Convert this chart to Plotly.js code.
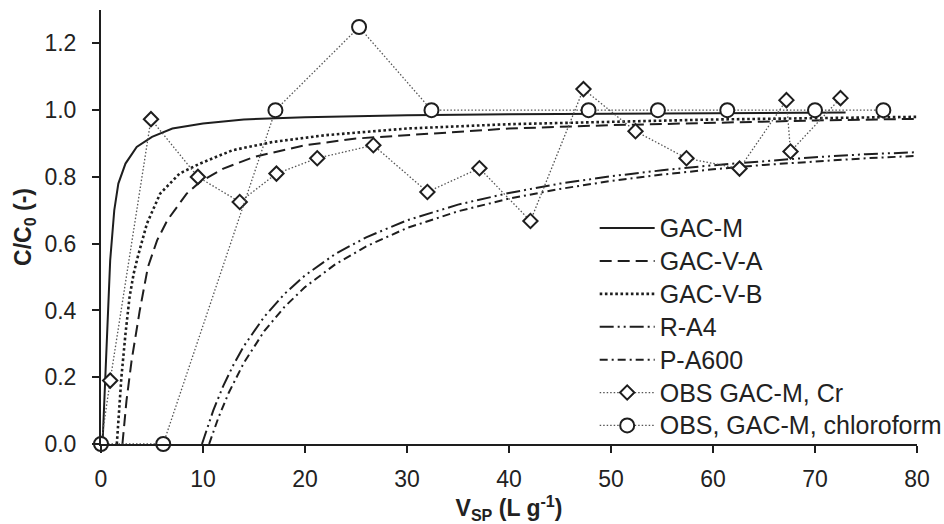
<!DOCTYPE html>
<html>
<head>
<meta charset="utf-8">
<script src="https://cdn.plot.ly/plotly-3.0.1.min.js"></script>
<style>
  html, body { margin: 0; padding: 0; background: #fff; }
  #chart { width: 944px; height: 524px; }
</style>
</head>
<body>
<div id="chart"></div>
<script>
// Breakthrough curves: specific throughput volume V_SP (L/g) vs C/C0
// Model curves
const gacM_V   = [0.15, 0.9, 1.3, 1.7, 2.4, 3.5, 5, 7, 10, 14, 20, 30, 40, 50, 60, 73];
const gacM_C   = [0, 0.55, 0.70, 0.78, 0.84, 0.89, 0.92, 0.945, 0.96, 0.972, 0.979, 0.985, 0.988, 0.99, 0.992, 0.993];

const gacVA_V  = [2.1, 2.5, 3.0, 3.8, 4.6, 5.5, 6.5, 8.4, 9.7, 12, 15, 20, 25, 32, 40, 50, 60, 70, 80];
const gacVA_C  = [0, 0.13, 0.25, 0.40, 0.53, 0.61, 0.67, 0.75, 0.785, 0.825, 0.86, 0.895, 0.915, 0.93, 0.945, 0.955, 0.963, 0.969, 0.974];

const gacVB_V  = [1.55, 1.8, 2.0, 2.4, 2.8, 3.2, 3.6, 4.5, 5.8, 7.7, 9.7, 12.9, 16.9, 22, 30, 40, 50, 60, 70, 80];
const gacVB_C  = [0, 0.10, 0.20, 0.33, 0.44, 0.51, 0.56, 0.66, 0.75, 0.81, 0.84, 0.88, 0.905, 0.925, 0.945, 0.958, 0.966, 0.972, 0.976, 0.98];

const rA4_V    = [9.9, 11, 12, 13, 14, 16, 18, 20, 23, 26, 30, 35, 40, 45, 50, 55, 60, 65, 70, 75, 80];
const rA4_C    = [0, 0.10, 0.175, 0.238, 0.293, 0.381, 0.45, 0.505, 0.57, 0.619, 0.67, 0.717, 0.752, 0.78, 0.802, 0.82, 0.835, 0.848, 0.859, 0.868, 0.874];

const pA600_V  = [10.6, 11.5, 12.5, 14, 16, 18, 20, 23, 26, 30, 35, 40, 45, 50, 55, 60, 65, 70, 75, 80];
const pA600_C  = [0, 0.078, 0.152, 0.243, 0.338, 0.411, 0.47, 0.539, 0.592, 0.647, 0.697, 0.735, 0.764, 0.788, 0.807, 0.823, 0.836, 0.847, 0.856, 0.863];

// Observed data
const obsCr_V  = [0, 0.9, 4.9, 9.5, 13.6, 17.2, 21.2, 26.7, 32.0, 37.1, 42.1, 47.3, 52.4, 57.4, 62.6, 67.2, 67.6, 72.5];
const obsCr_C  = [0, 0.19, 0.973, 0.80, 0.725, 0.81, 0.856, 0.895, 0.755, 0.826, 0.668, 1.063, 0.937, 0.856, 0.825, 1.03, 0.876, 1.036];

const obsCl_V  = [0, 6.1, 17.1, 25.3, 32.4, 47.8, 54.6, 61.4, 70.0, 76.7];
const obsCl_C  = [0, 0, 1.0, 1.249, 1.0, 1.0, 1.0, 1.0, 1.0, 1.0];

const xTicks = [0, 10, 20, 30, 40, 50, 60, 70, 80];
const yTicks = [0, 0.2, 0.4, 0.6, 0.8, 1.0, 1.2];

const ink = '#1e1e1e';
const FONT = '"Liberation Sans", Arial, Helvetica, sans-serif';

// legend labels are set a little larger than the row spacing implies
const legendLabel = s => '<span style="font-size:25px">' + s + '</span>';

const traces = [
  { name: legendLabel('GAC-M'), x: gacM_V, y: gacM_C, mode: 'lines',
    line: { color: ink, width: 2 } },
  { name: legendLabel('GAC-V-A'), x: gacVA_V, y: gacVA_C, mode: 'lines',
    line: { color: ink, width: 2, dash: '12px,6px' } },
  { name: legendLabel('GAC-V-B'), x: gacVB_V, y: gacVB_C, mode: 'lines',
    line: { color: ink, width: 2.6, dash: '2.6px,2.6px' } },
  { name: legendLabel('R-A4'), x: rA4_V, y: rA4_C, mode: 'lines',
    line: { color: ink, width: 2, dash: '14px,4px,2px,4px,2px,4px' } },
  { name: legendLabel('P-A600'), x: pA600_V, y: pA600_C, mode: 'lines',
    line: { color: ink, width: 2, dash: '8px,4px,2px,4px' } },
  { name: legendLabel('OBS GAC-M, Cr'), x: obsCr_V, y: obsCr_C, mode: 'lines+markers',
    line: { color: '#555', width: 1.3, dash: '1.5px,2px' },
    marker: { symbol: 'diamond', size: 11, color: '#fff', line: { color: ink, width: 2 } },
    cliponaxis: false },
  { name: legendLabel('OBS, GAC-M, chloroform'), x: obsCl_V, y: obsCl_C, mode: 'lines+markers',
    line: { color: '#555', width: 1.3, dash: '1.5px,2px' },
    marker: { symbol: 'circle', size: 14, color: '#fff', line: { color: ink, width: 2 } },
    cliponaxis: false }
];

const axisCommon = {
  showline: true, linecolor: ink, linewidth: 2,
  showgrid: false, zeroline: false,
  ticks: 'outside', ticklen: 7, tickwidth: 2, tickcolor: ink,
  tickfont: { family: FONT, size: 23, color: '#222' },
  fixedrange: true
};

const layout = {
  width: 944, height: 524,
  margin: { l: 101, r: 27, t: 10, b: 80, autoexpand: false },
  paper_bgcolor: '#fff', plot_bgcolor: '#fff',
  font: { family: FONT, color: '#222' },
  showlegend: true,
  legend: {
    x: 0.605, xanchor: 'left', y: 0.547, yanchor: 'top',
    bgcolor: 'rgba(255,255,255,0)', borderwidth: 0,
    font: { family: FONT, size: 23, color: '#222' },
    itemwidth: 55, tracegroupgap: 0
  },
  xaxis: Object.assign({}, axisCommon, {
    range: [0, 80], tickvals: xTicks, ticktext: xTicks.map(String),
    ticklabelstandoff: 6,
    title: { text: '<b>V<sub>SP</sub> (L g<sup>-1</sup>)</b>', font: { family: FONT, size: 23, color: '#222' }, standoff: 2 }
  }),
  yaxis: Object.assign({}, axisCommon, {
    range: [0, 1.3], tickvals: yTicks, ticktext: yTicks.map(v => v.toFixed(1)),
    ticklabelstandoff: 11,
    title: { text: '<b>C/C<sub>0</sub> (-)</b>', font: { family: FONT, size: 23, color: '#222' }, standoff: 6 }
  })
};

Plotly.newPlot('chart', traces, layout, { displayModeBar: false, staticPlot: true });
</script>
</body>
</html>
